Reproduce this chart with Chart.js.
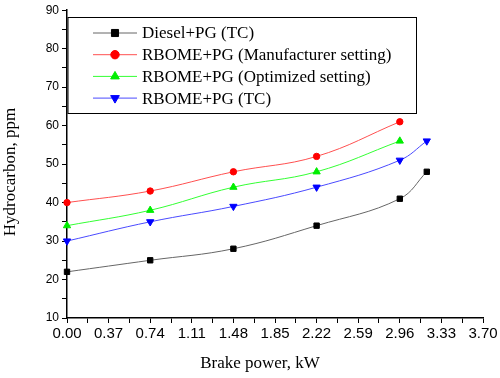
<!DOCTYPE html>
<html>
<head>
<meta charset="utf-8">
<script src="https://cdn.jsdelivr.net/npm/chart.js@4"></script>
<style>
    html, body { margin: 0; padding: 0; background: #fff; }
    #wrap { width: 500px; height: 378px; }
</style>
</head>
<body>
<div id="wrap"><canvas id="hcChart"></canvas></div>
<script>
// Brake power (kW) at each measured point
const powerDiesel = [0.00, 0.74, 1.48, 2.22, 2.96, 3.20];
const powerRbome = [0.00, 0.74, 1.48, 2.22, 2.96];
const powerRbomeTC = [0.00, 0.74, 1.48, 2.22, 2.96, 3.20];

// Hydrocarbon emissions, ppm
const hcDieselTC = [22, 25, 28, 34, 41, 48];
const hcRbomeManufacturer = [40, 43, 48, 52, 61];
const hcRbomeOptimized = [34, 38, 44, 48, 56];
const hcRbomeTC = [30, 35, 39, 44, 51, 56];

const seriesLabels = [
    'Diesel+PG (TC)',
    'RBOME+PG (Manufacturer setting)',
    'RBOME+PG (Optimized setting)',
    'RBOME+PG (TC)'
];

// Axis tick labels
const xTickValues = [0.00, 0.37, 0.74, 1.11, 1.48, 1.85, 2.22, 2.59, 2.96, 3.33, 3.70];
const yTickValues = [10, 20, 30, 40, 50, 60, 70, 80, 90];

const xTitle = 'Brake power, kW';
const yTitle = 'Hydrocarbon, ppm';

function toPoints(xs, ys) {
    return ys.map((y, i) => ({ x: xs[i], y: y }));
}

/**
 * Boxed legend in the upper left of the plot
 */
const boxLegend = {
    id: 'boxLegend',
    afterDraw(chart) {
        const ctx = chart.ctx;
        const left = 68, top = 17.5, right = 416.5, bottom = 113.5;
        ctx.save();
        ctx.fillStyle = '#fff';
        ctx.fillRect(left, top, right - left, bottom - top);
        ctx.strokeStyle = '#000';
        ctx.lineWidth = 1;
        ctx.strokeRect(left, top, right - left, bottom - top);

        ctx.font = '17px "Liberation Serif", "Times New Roman", serif';
        ctx.textBaseline = 'middle';
        ctx.textAlign = 'left';
        chart.data.datasets.forEach((ds, i) => {
            const y = 33 + i * 21.7;
            ctx.strokeStyle = ds.legendLine;
            ctx.lineWidth = 1;
            ctx.beginPath();
            ctx.moveTo(93, y);
            ctx.lineTo(137, y);
            ctx.stroke();
            ctx.fillStyle = ds.pointBackgroundColor;
            ctx.strokeStyle = ds.pointBorderColor;
            Chart.helpers.drawPoint(ctx, {
                pointStyle: ds.pointStyle,
                radius: ds.legendRadius,
                rotation: ds.pointRotation || 0,
                borderWidth: 1
            }, 115, y);
            ctx.fillStyle = '#000';
            ctx.fillText(ds.label, 142, y + 1);
        });
        ctx.restore();
    }
};

/**
 * Axis titles placed where the original figure has them
 */
const axisTitles = {
    id: 'axisTitles',
    afterDraw(chart) {
        const ctx = chart.ctx;
        ctx.save();
        ctx.fillStyle = '#000';
        ctx.font = '17px "Liberation Serif", "Times New Roman", serif';
        ctx.textAlign = 'center';
        ctx.textBaseline = 'middle';
        ctx.fillText(xTitle, 260, 364);
        ctx.translate(11, 172);
        ctx.rotate(-Math.PI / 2);
        ctx.fillText(yTitle, 0, 0);
        ctx.restore();
    }
};

function makeDataset(label, xs, ys, color, lineColor, style, radius, legendRadius, rotation) {
    return {
        label: label,
        data: toPoints(xs, ys),
        borderColor: lineColor,
        legendLine: lineColor,
        backgroundColor: color,
        pointBackgroundColor: color,
        pointBorderColor: color,
        pointBorderWidth: 1,
        pointStyle: style,
        pointRadius: radius,
        pointRotation: rotation,
        legendRadius: legendRadius,
        borderWidth: 1,
        tension: 0.4,
        clip: false
    };
}

const ctx = document.getElementById('hcChart');

new Chart(ctx, {
    type: 'line',
    data: {
        datasets: [
            makeDataset(seriesLabels[0], powerDiesel, hcDieselTC, '#000', '#666', 'rect', 3.8, 5, 0),
            makeDataset(seriesLabels[1], powerRbome, hcRbomeManufacturer, '#ff0000', '#ff5050', 'circle', 3.2, 4.2, 0),
            makeDataset(seriesLabels[2], powerRbome, hcRbomeOptimized, '#00ee00', '#33ff33', 'triangle', 4.2, 5, 0),
            makeDataset(seriesLabels[3], powerRbomeTC, hcRbomeTC, '#0000ff', '#4a4aff', 'triangle', 4.2, 5, 180)
        ]
    },
    options: {
        responsive: true,
        maintainAspectRatio: false,
        animation: false,
        layout: {
            padding: { left: 0, top: 8, right: 17, bottom: 0 }
        },
        plugins: {
            legend: { display: false },
            tooltip: { enabled: false }
        },
        scales: {
            x: {
                type: 'linear',
                min: 0,
                max: 3.7,
                afterBuildTicks: (scale) => {
                    const ticks = [];
                    xTickValues.forEach((v, i) => {
                        ticks.push({ value: v, major: true });
                        if (i < xTickValues.length - 1) {
                            ticks.push({ value: (v + xTickValues[i + 1]) / 2, major: false });
                        }
                    });
                    scale.ticks = ticks;
                },
                afterFit: (scale) => { scale.height = 60; },
                border: { display: true, color: '#000', width: 1.5 },
                grid: {
                    drawOnChartArea: false,
                    drawTicks: true,
                    tickLength: 5,
                    tickColor: '#000',
                    tickWidth: 1
                },
                ticks: {
                    autoSkip: false,
                    maxRotation: 0,
                    padding: 2,
                    color: '#000',
                    font: { family: '"Liberation Sans", Arial, sans-serif', size: 15 },
                    callback: function(value) {
                        const idx = xTickValues.findIndex(v => Math.abs(v - value) < 1e-6);
                        return idx >= 0 ? xTickValues[idx].toFixed(2) : '';
                    }
                }
            },
            y: {
                type: 'linear',
                min: 10,
                max: 90,
                afterBuildTicks: (scale) => {
                    const ticks = [];
                    yTickValues.forEach((v, i) => {
                        ticks.push({ value: v, major: true });
                        if (i < yTickValues.length - 1) {
                            ticks.push({ value: v + 5, major: false });
                        }
                    });
                    scale.ticks = ticks;
                },
                afterFit: (scale) => { scale.width = 67; },
                border: { display: true, color: '#000', width: 1.5 },
                grid: {
                    drawOnChartArea: false,
                    drawTicks: true,
                    tickLength: 5,
                    tickColor: '#000',
                    tickWidth: 1
                },
                ticks: {
                    autoSkip: false,
                    padding: 3,
                    color: '#000',
                    font: { family: '"Liberation Sans", Arial, sans-serif', size: 12 },
                    callback: function(value) {
                        return yTickValues.includes(value) ? String(value) : '';
                    }
                }
            }
        }
    },
    plugins: [boxLegend, axisTitles]
});
</script>
</body>
</html>
